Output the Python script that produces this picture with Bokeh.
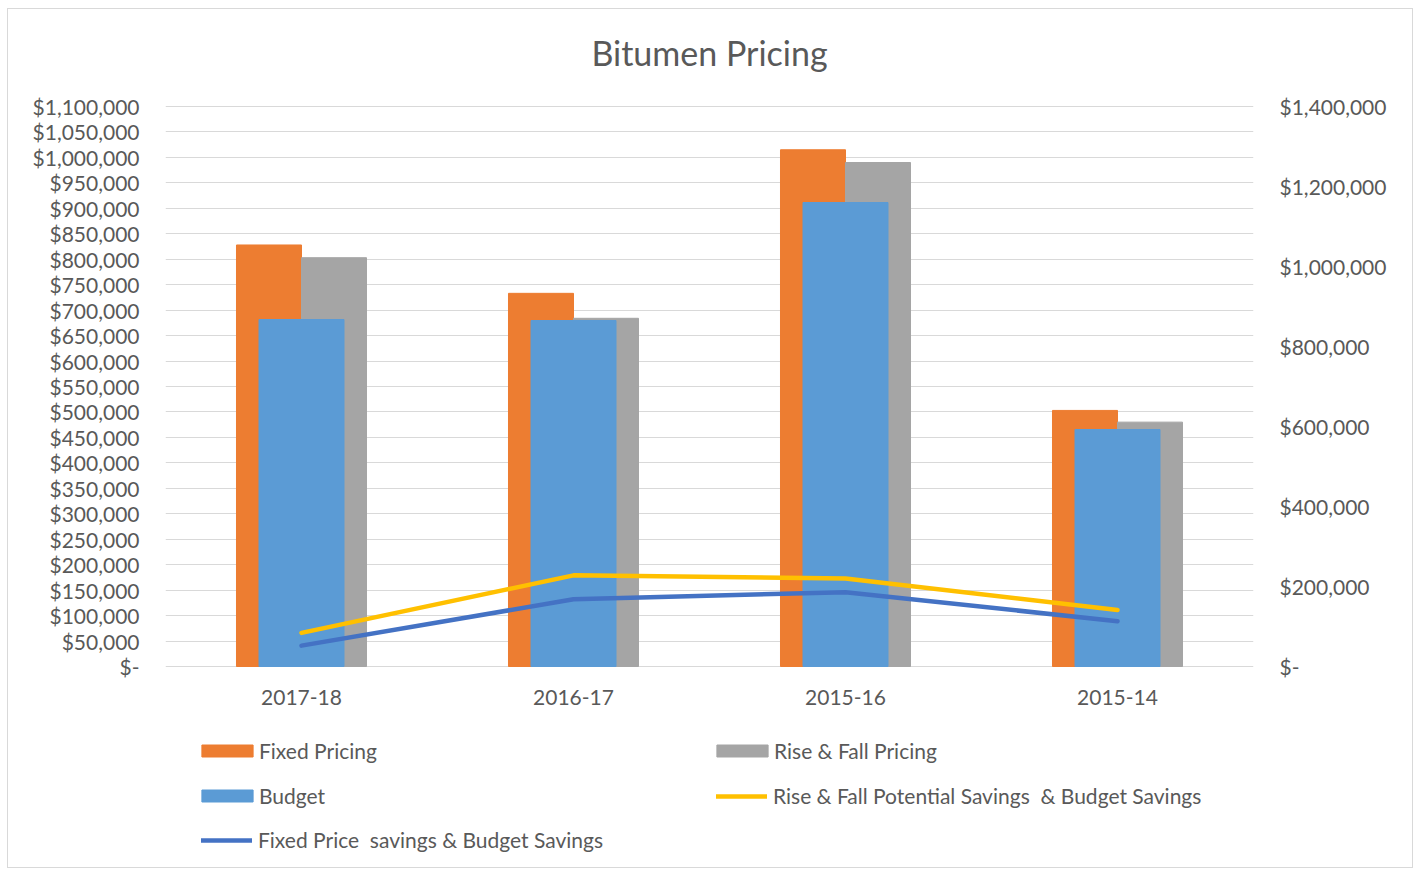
from bokeh.plotting import figure
from bokeh.models import (Range1d, LinearAxis, FixedTicker, Legend, LegendItem,
                          FactorRange, ColumnDataSource, Label)
from bokeh.transform import dodge
from bokeh.embed import file_html
from bokeh.resources import INLINE

# ---- data ----
categories = ["2017-18", "2016-17", "2015-16", "2015-14"]
fixed_pricing = [828000, 733000, 1015000, 503000]
rise_fall_pricing = [803000, 684000, 990000, 480000]
budget = [867500, 865000, 1160000, 592500]               # secondary axis
rf_savings = [66000, 179000, 173000, 111000]             # primary axis
fixed_savings = [41000, 132000, 146000, 89000]           # primary axis
left_ticks = [0, 50000, 100000, 150000, 200000, 250000, 300000, 350000, 400000,
              450000, 500000, 550000, 600000, 650000, 700000, 750000, 800000,
              850000, 900000, 950000, 1000000, 1050000, 1100000]
right_ticks = [0, 200000, 400000, 600000, 800000, 1000000, 1200000, 1400000]
left_max = 1100000
right_max = 1400000
title_text = "Bitumen Pricing"


def money(v):
    return "$-" if v == 0 else "${:,}".format(v)


ORANGE = "#ED7D31"
GRAY = "#A5A5A5"
BLUE = "#5B9BD5"
YELLOW = "#FFC000"
DBLUE = "#4472C4"
TXT = "#595959"
FONT = "Lato"

# layout (pixels)
W, H = 1406, 860
TOP, LEFT, FRAME_W = 3, 157, 1088
ABOVE = 94             # pixels of frame kept above the top value gridline (title)
VALUE_H = 560          # pixels from zero line to top of value area
BELOW_ZERO = 196       # pixels of frame kept below the zero line (axis labels + legend)
BOTTOM = H - TOP - ABOVE - VALUE_H - BELOW_ZERO
TITLE_GAP = 54         # title centre above the top gridline, pixels

src = ColumnDataSource(dict(cat=categories, fixed=fixed_pricing, rf=rise_fall_pricing,
                            budget=budget, rfs=rf_savings, fs=fixed_savings))

p = figure(x_range=FactorRange(*categories),
           y_range=Range1d(-left_max * BELOW_ZERO / VALUE_H,
                           left_max * (VALUE_H + ABOVE) / VALUE_H),
           width=W, height=H, output_backend="svg", toolbar_location=None,
           min_border_left=LEFT, min_border_right=W - LEFT - FRAME_W,
           min_border_top=TOP, min_border_bottom=BOTTOM)
p.styles = {"border": "1px solid #d9d9d9", "margin-left": "7px", "margin-top": "8px"}
p.extra_y_ranges = {"right": Range1d(-right_max * BELOW_ZERO / VALUE_H,
                                     right_max * (VALUE_H + ABOVE) / VALUE_H)}
p.outline_line_color = None
p.background_fill_color = "white"
p.title.visible = False

# title (drawn inside the extended frame, centred on the frame)
p.add_layout(Label(x=len(categories) / 2, y=left_max * (VALUE_H + TITLE_GAP) / VALUE_H,
                   text=title_text, text_align="center", text_baseline="middle",
                   text_font=FONT, text_font_size="34px", text_color=TXT))

# axes
p.yaxis.ticker = FixedTicker(ticks=left_ticks)
p.yaxis.major_label_overrides = {t: money(t) for t in left_ticks}
right_axis = LinearAxis(y_range_name="right", ticker=FixedTicker(ticks=right_ticks))
right_axis.major_label_overrides = {t: money(t) for t in right_ticks}
p.add_layout(right_axis, "right")

for ax in p.yaxis + p.xaxis:
    ax.axis_line_color = None
    ax.major_tick_line_color = None
    ax.minor_tick_line_color = None
    ax.major_tick_out = 0
    ax.major_tick_in = 0
    ax.major_label_text_font = FONT
    ax.major_label_text_font_size = "21px"
    ax.major_label_text_color = TXT
p.yaxis[0].major_label_standoff = 26
right_axis.major_label_standoff = 26
p.xaxis.fixed_location = 0
p.xaxis.major_label_standoff = 23

p.xgrid.grid_line_color = None
p.ygrid.grid_line_color = "#D9D9D9"
p.ygrid.grid_line_width = 1

# bars
r_fixed = p.vbar(x=dodge("cat", -0.1195, range=p.x_range), top="fixed", width=0.239,
                 source=src, fill_color=ORANGE, line_color=ORANGE)
r_rf = p.vbar(x=dodge("cat", 0.1195, range=p.x_range), top="rf", width=0.239,
              source=src, fill_color=GRAY, line_color=GRAY)
r_budget = p.vbar(x="cat", top="budget", width=0.3125, source=src, y_range_name="right",
                  fill_color=BLUE, line_color=BLUE)
# lines
r_rfs = p.line(x="cat", y="rfs", source=src, line_color=YELLOW, line_width=4.5,
               line_cap="round", line_join="round")
r_fs = p.line(x="cat", y="fs", source=src, line_color=DBLUE, line_width=4.5,
              line_cap="round", line_join="round")


def make_legend(label, renderer, loc, is_bar):
    lg = Legend(items=[LegendItem(label=label, renderers=[renderer])],
                location=loc, orientation="vertical")
    lg.background_fill_alpha = 0
    lg.border_line_alpha = 0
    lg.label_text_font = FONT
    lg.label_text_font_size = "21px"
    lg.label_text_color = TXT
    lg.label_height = 25
    lg.padding = 10
    lg.margin = 0
    if is_bar:
        lg.glyph_width = 64      # area swatches are inset by 10% per side
        lg.glyph_height = 15
        lg.label_standoff = 0
    else:
        lg.glyph_width = 51
        lg.glyph_height = 12
        lg.label_standoff = 6
    return lg


legends = [
    make_legend("Fixed Pricing", r_fixed, (20, 89), True),
    make_legend("Budget", r_budget, (20, 44), True),
    make_legend("Fixed Price  savings & Budget Savings", r_fs, (26, 0), False),
    make_legend("Rise & Fall Pricing", r_rf, (535, 89), True),
    make_legend("Rise & Fall Potential Savings  & Budget Savings", r_rfs, (541, 44), False),
]
for lg in legends:
    p.add_layout(lg, "center")

open("out.html", "w").write(file_html(p, INLINE))
